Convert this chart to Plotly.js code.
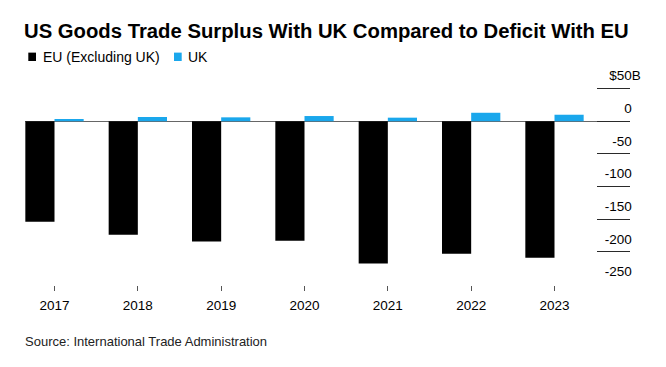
<!DOCTYPE html>
<html>
<head>
<meta charset="utf-8">
<script src="https://cdn.plot.ly/plotly-3.0.1.min.js"></script>
<style>html,body{margin:0;padding:0;background:#fff;}#chart{width:666px;height:367px;}</style>
</head>
<body>
<div id="chart"></div>
<script>
// ---- data ----
const years = ['2017', '2018', '2019', '2020', '2021', '2022', '2023'];
const euValues = [-154, -174, -184, -183, -218, -203, -209];
const ukValues = [3.5, 6.5, 6, 8, 5.5, 13, 10];
const seriesNames = ['EU (Excluding UK)', 'UK'];
const seriesColors = ['#000000', '#1aa7ec'];
const yTickVals = [50, 0, -50, -100, -150, -200, -250];
const yTickText = ['$50B', '0', '-50', '-100', '-150', '-200', '-250'];
const titleText = 'US Goods Trade Surplus With UK Compared to Deficit With EU';
const sourceText = 'Source: International Trade Administration';

// ---- layout geometry (pixels) ----
const W = 666, H = 367;
const plotL = 25, plotR = 630, plotT = 85.7, plotB = 284.8;
const px2x = px => (px - plotL) / (plotR - plotL);
const px2y = py => (plotB - py) / (plotB - plotT);

const font = 'Arial, "Liberation Sans", sans-serif';

// the unit suffix of the top label hangs past the right edge: pad the other labels
// with an invisible "B" so the numbers line up
const yTickLabels = yTickText.map(t =>
  t.endsWith('B') ? t : t + '<span style="color:rgba(0,0,0,0)">B</span>');

const traces = [
  {type: 'bar', x: years, y: euValues, name: seriesNames[0],
   marker: {color: seriesColors[0], line: {width: 0}}, hoverinfo: 'x+y'},
  {type: 'bar', x: years, y: ukValues, name: seriesNames[1],
   marker: {color: seriesColors[1], line: {width: 0}}, hoverinfo: 'x+y'}
];

// legend built from series
const legendSquares = [28.3, 174];
const legendTextX = [41.5, 187.3];
const legendY = 56.5;
const shapes = seriesNames.map((n, i) => ({
  type: 'rect', xref: 'paper', yref: 'paper', layer: 'above',
  x0: px2x(legendSquares[i]), x1: px2x(legendSquares[i] + 7.7),
  y0: px2y(legendY + 4.2), y1: px2y(legendY - 4.2),
  fillcolor: seriesColors[i], line: {width: 0}
}));
const annotations = seriesNames.map((n, i) => ({
  text: n, xref: 'paper', yref: 'paper', x: px2x(legendTextX[i]), y: px2y(legendY),
  xanchor: 'left', yanchor: 'middle', showarrow: false, borderpad: 0,
  font: {family: font, size: 14, color: '#000'}
}));
annotations.push({
  text: sourceText, xref: 'paper', yref: 'paper', x: px2x(24), y: px2y(341),
  xanchor: 'left', yanchor: 'middle', showarrow: false, borderpad: 0,
  font: {family: font, size: 13, color: '#222'}
});

const layout = {
  width: W, height: H,
  margin: {l: plotL, r: W - plotR, t: plotT, b: H - plotB, pad: 0},
  paper_bgcolor: '#fff', plot_bgcolor: '#fff',
  showlegend: false,
  barmode: 'group', bargap: 0.3, bargroupgap: 0,
  title: {
    text: '<b>' + titleText + '</b>', xref: 'container', yref: 'container',
    x: 24 / W, xanchor: 'left', y: 1 - 31 / H, yanchor: 'middle',
    font: {family: font, size: 20.3, color: '#000'}
  },
  xaxis: {
    type: 'category', categoryarray: years, range: [-0.354, 6.906],
    showgrid: false, showline: false, zeroline: false,
    ticks: 'outside', ticklen: 5, tickwidth: 1, tickcolor: '#555',
    ticklabelstandoff: 3,
    tickfont: {family: font, size: 13.5, color: '#000'}
  },
  yaxis: {
    side: 'right', range: [-250.8, 54], tickvals: yTickVals, ticktext: yTickLabels,
    showgrid: false, showline: false,
    zeroline: true, zerolinecolor: '#666', zerolinewidth: 1,
    ticks: 'inside', ticklen: 33, tickwidth: 1, tickcolor: '#2a2a2a',
    ticklabelposition: 'inside', ticklabelstandoff: -44, ticklabelshift: -13,
    ticklabeloverflow: 'allow',
    tickfont: {family: font, size: 13.5, color: '#000'}
  },
  shapes: shapes,
  annotations: annotations
};

Plotly.newPlot('chart', traces, layout, {displayModeBar: false, staticPlot: true});
</script>
</body>
</html>
